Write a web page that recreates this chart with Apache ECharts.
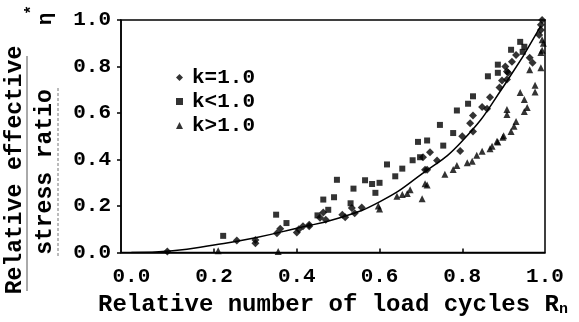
<!DOCTYPE html>
<html>
<head>
<meta charset="utf-8">
<script src="https://cdn.jsdelivr.net/npm/echarts@6/dist/echarts.min.js"></script>
<style>
  html, body { margin: 0; padding: 0; background: #fff; }
  #chart { width: 579px; height: 322px; }
</style>
</head>
<body>
<div id="chart"></div>
<script>
// tick values
const xTickLabels = [0, 0.2, 0.4, 0.6, 0.8, 1.0];
const xTickMarks = [0.2, 0.4, 0.6, 0.8];

// k = 1.0 : points close to the fitted curve
const kEqual = [
  [0.087, 0.005], [0.255, 0.052], [0.30, 0.054], [0.30, 0.04], [0.352, 0.083],
  [0.36, 0.103], [0.40, 0.086], [0.405, 0.10], [0.415, 0.113], [0.43, 0.113],
  [0.43, 0.12], [0.456, 0.15], [0.464, 0.172], [0.47, 0.141], [0.51, 0.163],
  [0.517, 0.152], [0.533, 0.192], [0.54, 0.169], [0.557, 0.194], [0.705, 0.41],
  [0.71, 0.356], [0.715, 0.356], [0.722, 0.431], [0.739, 0.396], [0.795, 0.437],
  [0.80, 0.50], [0.819, 0.556], [0.826, 0.521], [0.826, 0.589], [0.848, 0.626],
  [0.86, 0.618], [0.867, 0.668], [0.89, 0.71], [0.896, 0.74], [0.908, 0.779],
  [0.904, 0.80], [0.911, 0.773], [0.908, 0.744], [0.92, 0.82], [0.93, 0.85],
  [0.963, 0.838], [0.97, 0.816], [0.986, 0.936], [0.99, 0.957], [0.99, 0.98],
  [0.993, 1.0]
];

// k < 1.0 : points above the curve
const kLess = [
  [0.222, 0.072], [0.35, 0.163], [0.375, 0.127], [0.45, 0.16], [0.464, 0.228],
  [0.476, 0.184], [0.49, 0.238], [0.497, 0.313], [0.53, 0.212], [0.537, 0.275],
  [0.565, 0.311], [0.582, 0.295], [0.59, 0.257], [0.60, 0.30], [0.618, 0.379],
  [0.638, 0.328], [0.655, 0.361], [0.68, 0.397], [0.693, 0.476], [0.698, 0.41],
  [0.715, 0.482], [0.746, 0.549], [0.754, 0.46], [0.778, 0.514], [0.787, 0.611],
  [0.814, 0.64], [0.826, 0.672], [0.862, 0.758], [0.886, 0.773], [0.886, 0.808],
  [0.918, 0.872], [0.94, 0.906], [0.946, 0.863], [0.95, 0.885]
];

// k > 1.0 : lower branch
const kGreater = [
  [0.21, 0.008], [0.355, 0.005], [0.597, 0.20], [0.60, 0.187], [0.642, 0.242],
  [0.655, 0.25], [0.667, 0.254], [0.674, 0.27], [0.703, 0.231], [0.71, 0.296],
  [0.715, 0.291], [0.758, 0.337], [0.778, 0.357], [0.787, 0.374], [0.812, 0.386],
  [0.824, 0.393], [0.835, 0.419], [0.848, 0.436], [0.867, 0.447], [0.872, 0.457],
  [0.884, 0.479], [0.886, 0.476], [0.898, 0.496], [0.90, 0.502], [0.908, 0.594],
  [0.908, 0.615], [0.918, 0.521], [0.925, 0.543], [0.93, 0.564], [0.94, 0.688],
  [0.95, 0.607], [0.957, 0.624], [0.95, 0.658], [0.963, 0.786], [0.976, 0.69],
  [0.976, 0.72], [0.99, 0.795], [0.99, 0.86], [0.993, 0.87], [0.996, 0.90],
  [0.993, 0.915]
];

// fitted curve
const fitCurve = [
  [0, 0], [0.1, 0.008], [0.2, 0.033], [0.3, 0.064], [0.4, 0.105], [0.5, 0.148],
  [0.6, 0.218], [0.7, 0.335], [0.8, 0.48], [0.9, 0.715], [0.99, 0.975]
];

const font = "'Liberation Mono', 'DejaVu Sans Mono', monospace";
const chart = echarts.init(document.getElementById("chart"));

const scatter = (name, data, symbol, size) => ({
  name,
  type: "scatter",
  data,
  symbol,
  symbolSize: size,
  itemStyle: { color: "#000" },
  z: 3,
});

chart.setOption({
  animation: false,
  grid: {
    left: 121, right: 34, top: 20, bottom: 65,
    show: true, borderColor: "#000", borderWidth: 1.5,
  },
  legend: {
    data: ["k=1.0", "k<1.0", "k>1.0"],
    orient: "vertical",
    left: 171, top: 62,
    itemWidth: 7, itemHeight: 7, itemGap: 3,
    textStyle: {
      fontFamily: font, fontWeight: "bold", fontSize: 21,
      color: "#000", lineHeight: 14, padding: [0, 0, 0, 4],
    },
  },
  xAxis: {
    type: "value",
    min: -0.025, max: 1.0,
    axisLine: { lineStyle: { color: "#000", width: 1.5 } },
    splitLine: { show: false },
    axisTick: { customValues: xTickMarks, inside: true, length: 4, lineStyle: { color: "#000", width: 1.5 } },
    axisLabel: {
      customValues: xTickLabels,
      formatter: (v) => v.toFixed(1),
      fontFamily: font, fontWeight: "bold", fontSize: 21, color: "#000", margin: 14,
    },
    name: "{a|Relative number of load cycles R}{b|n}",
    nameLocation: "middle",
    nameGap: 36,
    nameTextStyle: {
      rich: {
        a: { fontFamily: font, fontWeight: "bold", fontSize: 24, color: "#000" },
        b: { fontFamily: font, fontWeight: "bold", fontSize: 15, color: "#000", padding: [10, 0, 0, 0] },
      },
    },
  },
  yAxis: {
    type: "value",
    min: 0, max: 1.0, interval: 0.2,
    axisLine: { show: true, onZero: false, lineStyle: { color: "#000", width: 1.5 } },
    splitLine: { show: false },
    axisTick: { show: true, length: 4, lineStyle: { color: "#000", width: 1.5 } },
    axisLabel: {
      formatter: (v) => v.toFixed(1),
      fontFamily: font, fontWeight: "bold", fontSize: 21, color: "#000", margin: 10,
    },
  },
  graphic: [
    {
      type: "text", x: 15, y: 170, rotation: Math.PI / 2,
      style: { text: "Relative effective", font: "bold 23px " + font, fill: "#000", textAlign: "center", textVerticalAlign: "middle" },
    },
    {
      type: "text", x: 45, y: 172, rotation: Math.PI / 2,
      style: { text: "stress ratio", font: "bold 23px " + font, fill: "#000", textAlign: "center", textVerticalAlign: "middle" },
    },
    {
      type: "text", x: 46, y: 19, rotation: Math.PI / 2,
      style: { text: "η", font: "bold 21px " + font, fill: "#000", textAlign: "center", textVerticalAlign: "middle" },
    },
    {
      type: "text", x: 32, y: 10, rotation: Math.PI / 2,
      style: { text: "*", font: "bold 16px " + font, fill: "#000", textAlign: "center", textVerticalAlign: "middle" },
    },
    { type: "line", shape: { x1: 27, y1: 291, x2: 27, y2: 56 }, style: { stroke: "#555", lineWidth: 1 } },
    { type: "line", shape: { x1: 58, y1: 256, x2: 58, y2: 88 }, style: { stroke: "#777", lineWidth: 1, lineDash: [3, 2] } },
  ],
  series: [
    {
      type: "line",
      data: fitCurve,
      smooth: true,
      showSymbol: false,
      lineStyle: { color: "#000", width: 1.5 },
      z: 2,
    },
    scatter("k=1.0", kEqual, "diamond", 8),
    scatter("k<1.0", kLess, "rect", 6),
    scatter("k>1.0", kGreater, "triangle", 7),
  ],
});
</script>
</body>
</html>
